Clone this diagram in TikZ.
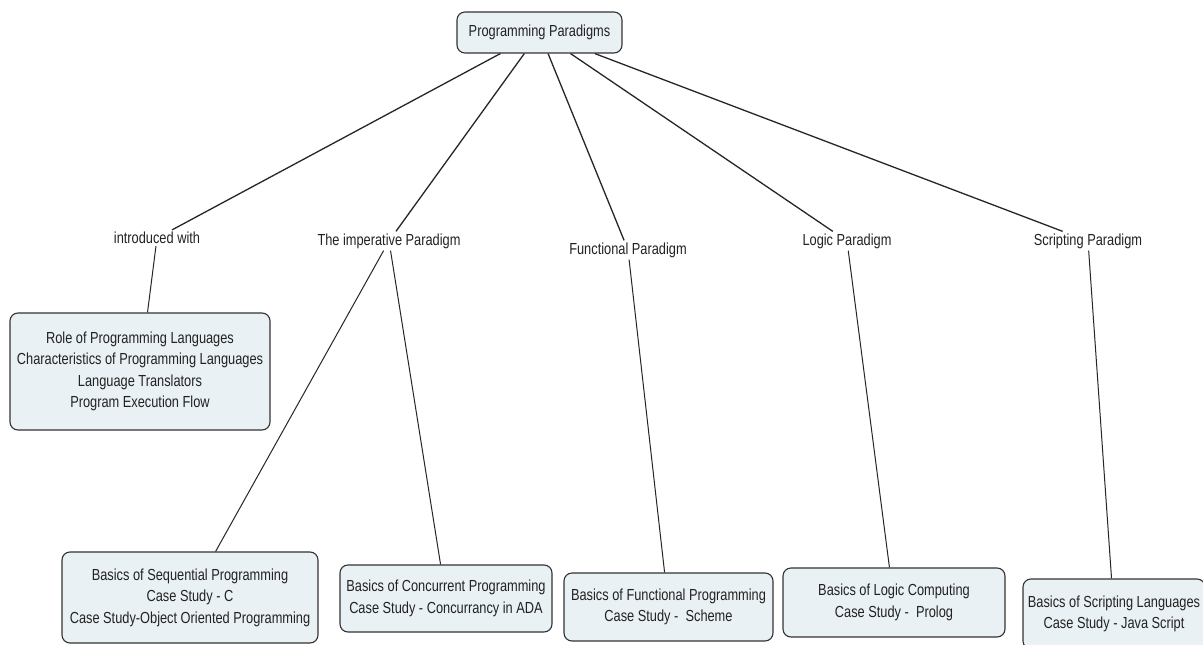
\documentclass[tikz,border=0pt]{standalone}
\usepackage{fontspec}
\setmainfont{Liberation Sans}[FakeStretch=0.8]
\definecolor{boxfill}{HTML}{EAF1F4}
\definecolor{boxline}{HTML}{333333}
\definecolor{txt}{HTML}{222222}
\begin{document}
\begin{tikzpicture}[x=1pt,y=-1pt,
  every node/.style={text=txt, font=\fontsize{16}{21.5}\selectfont},
  box/.style={draw=boxline, line width=1.1pt, fill=boxfill, rounded corners=8pt,
              align=center, inner sep=0pt},
  lbl/.style={inner sep=2pt},
  link/.style={draw=black!85, line width=1.3pt},
  sublink/.style={draw=black!85, line width=1pt}]
\useasboundingbox (0,0) rectangle (1203,645);
\clip (0,0) rectangle (1203,645);
\fill[white] (0,0) rectangle (1203,645);

% main concept
\node[box, minimum width=165pt, minimum height=41pt] (top) at (539.5,32.5) {Programming Paradigms};

% linking phrases
\node[lbl] (intro)  at (157,238) {introduced with};
\node[lbl] (imper)  at (389,241) {The imperative Paradigm};
\node[lbl] (func)   at (628,250) {Functional Paradigm};
\node[lbl] (logic)  at (847,241) {Logic Paradigm};
\node[lbl] (script) at (1088,241) {Scripting Paradigm};

% concept boxes
\node[box, minimum width=260pt, minimum height=117pt] (intbox) at (140,371.5)
  {Role of Programming Languages\\Characteristics of Programming Languages\\Language Translators\\Program Execution Flow};
\node[box, minimum width=256pt, minimum height=91pt] (seqbox) at (190,597.5)
  {Basics of Sequential Programming\\Case Study - C\\Case Study-Object Oriented Programming};
\node[box, minimum width=212pt, minimum height=67pt] (conbox) at (446,598.5)
  {Basics of Concurrent Programming\\Case Study - Concurrancy in ADA};
\node[box, minimum width=209pt, minimum height=68pt] (funbox) at (668.5,607)
  {Basics of Functional Programming\\Case Study - \ Scheme};
\node[box, minimum width=222pt, minimum height=69pt] (logbox) at (894,602.5)
  {Basics of Logic Computing\\Case Study - \ Prolog};
\node[box, minimum width=182pt, minimum height=70pt] (scrbox) at (1114,614)
  {Basics of Scripting Languages\\Case Study - Java Script};

% connectors from the main concept
\draw[link] (top) -- (intro);
\draw[link] (top) -- (imper);
\draw[link] (top) -- (func);
\draw[link] (top) -- (logic);
\draw[link] (top) -- (script);

% connectors to the concept boxes
\draw[sublink] (intro) -- (intbox);
\draw[sublink] (imper) -- (seqbox);
\draw[sublink] (imper) -- (conbox);
\draw[sublink] (func) -- (funbox);
\draw[sublink] (logic) -- (logbox);
\draw[sublink] (script) -- (scrbox);
\end{tikzpicture}
\end{document}
